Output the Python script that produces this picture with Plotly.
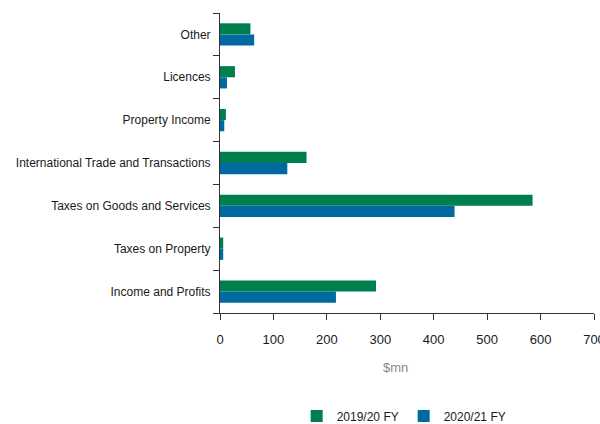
import plotly.graph_objects as go

# Revenue categories, listed bottom to top as drawn on the y axis
categories = [
    "Income and Profits",
    "Taxes on Property",
    "Taxes on Goods and Services",
    "International Trade and Transactions",
    "Property Income",
    "Licences",
    "Other",
]
fy_2019_20 = [292, 6, 585, 162, 11, 28, 57]
fy_2020_21 = [217, 6, 439, 126, 8, 13, 64]

x_ticks = [0, 100, 200, 300, 400, 500, 600, 700]

GREEN = "#007F4E"
BLUE = "#006AA0"
FONT = "Liberation Sans, Arial, sans-serif"

fig = go.Figure()
# Blue first so the green bar sits above it within each group
fig.add_trace(go.Bar(
    y=categories, x=fy_2020_21, orientation="h", name="2020/21 FY",
    marker=dict(color=BLUE, line=dict(width=0)), legendrank=2,
))
fig.add_trace(go.Bar(
    y=categories, x=fy_2019_20, orientation="h", name="2019/20 FY",
    marker=dict(color=GREEN, line=dict(width=0)), legendrank=1,
))

fig.update_layout(
    width=600, height=424,
    margin=dict(l=220, r=6, t=13, b=111, autoexpand=False),
    paper_bgcolor="white", plot_bgcolor="white",
    barmode="group", bargap=0.48, bargroupgap=0,
    font=dict(family=FONT, size=12, color="#1a1a1a"),
    showlegend=True,
    legend=dict(
        orientation="h", x=0.205, xanchor="left", y=-0.343, yanchor="middle",
        font=dict(size=12, color="#1a1a1a"), itemwidth=30,
        entrywidth=62, entrywidthmode="pixels",
        traceorder="normal",
    ),
    xaxis=dict(
        range=[0, 700], tickvals=x_ticks, showgrid=False, zeroline=False,
        showline=True, linecolor="#333333", linewidth=1,
        ticks="outside", ticklen=6, tickcolor="#333333",
        tickfont=dict(size=13), automargin=False,
        ticklabelstandoff=8, ticklabeloverflow="allow",
    ),
    yaxis=dict(
        showgrid=False, zeroline=False, showline=True,
        linecolor="#333333", linewidth=1,
        ticks="outside", ticklen=6, tickcolor="#333333",
        tickson="boundaries", ticklabelstandoff=6,
        tickfont=dict(size=12), automargin=False,
    ),
    annotations=[dict(
        text="$mn", xref="paper", yref="paper", x=0.47, y=-0.183,
        showarrow=False, font=dict(size=13, color="#8a8a8a"),
        xanchor="center", yanchor="middle",
    )],
)

fig.write_html("out.html")
